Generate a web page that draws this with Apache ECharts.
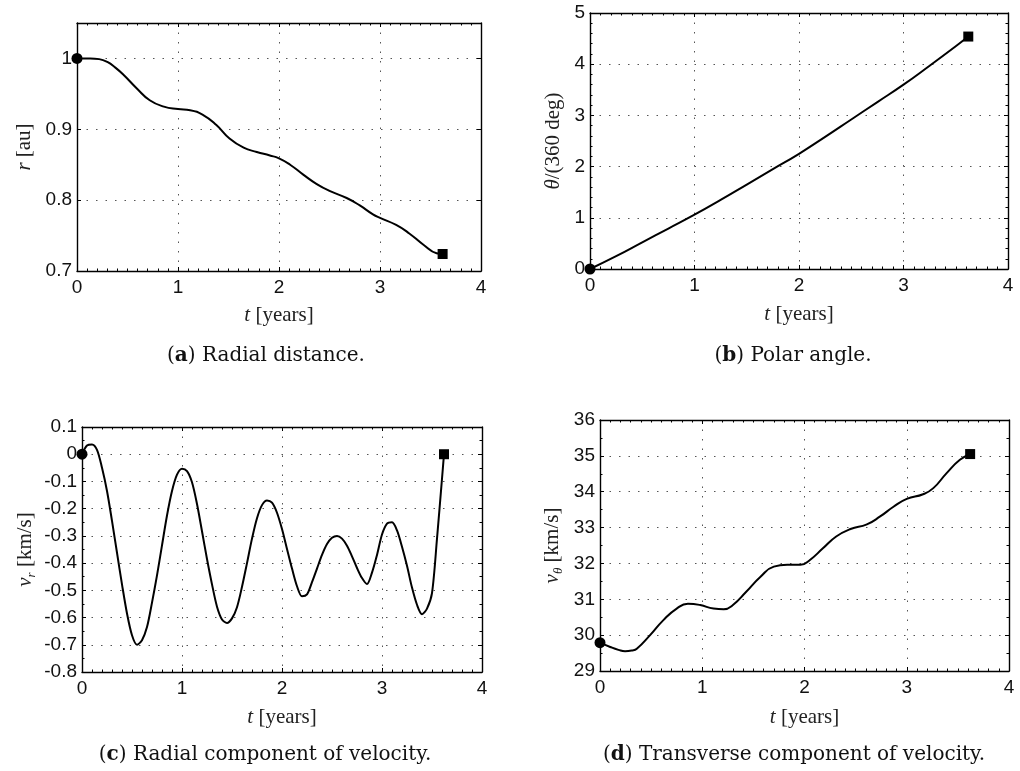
<!DOCTYPE html>
<html><head><meta charset="utf-8">
<script src="https://cdn.jsdelivr.net/npm/echarts@6/dist/echarts.min.js"></script>
<style>html,body{margin:0;padding:0;background:#fff}#c{width:1020px;height:771px}</style>
</head><body><div id="c"></div>
<script>
// (a) radial distance r [au]
const tA = [0, 0.13, 0.22, 0.3, 0.38, 0.46, 0.59, 0.72, 0.86, 1.0, 1.12, 1.25, 1.38, 1.51, 1.65, 1.78, 1.91, 2.0, 2.11, 2.24, 2.37, 2.5, 2.67, 2.8, 2.93, 3.0, 3.16, 3.29, 3.43, 3.56, 3.62];
const rA = [1.0, 1.0, 0.999, 0.995, 0.987, 0.977, 0.958, 0.941, 0.932, 0.9286, 0.927, 0.920, 0.906, 0.887, 0.874, 0.868, 0.863, 0.859, 0.850, 0.836, 0.823, 0.813, 0.803, 0.7925, 0.780, 0.775, 0.765, 0.753, 0.737, 0.725, 0.724];
// (b) polar angle theta/(360 deg)
const tB = [0, 0.25, 0.5, 0.75, 1.0, 1.25, 1.5, 1.75, 2.0, 2.25, 2.5, 2.75, 3.0, 3.25, 3.5, 3.62];
const thB = [0, 0.25, 0.52, 0.79, 1.06, 1.35, 1.65, 1.95, 2.25, 2.58, 2.92, 3.26, 3.60, 3.97, 4.35, 4.54];
// (c) radial velocity v_r [km/s]
const tC = [0, 0.05, 0.1, 0.15, 0.2, 0.25, 0.3, 0.35, 0.4, 0.45, 0.5, 0.55, 0.6, 0.65, 0.7, 0.75, 0.8, 0.85, 0.9, 0.95, 1.0, 1.05, 1.1, 1.15, 1.2, 1.25, 1.3, 1.35, 1.4, 1.45, 1.5, 1.55, 1.6, 1.65, 1.7, 1.75, 1.8, 1.85, 1.9, 1.95, 2.0, 2.05, 2.1, 2.15, 2.2, 2.25, 2.3, 2.35, 2.4, 2.45, 2.5, 2.55, 2.6, 2.65, 2.7, 2.75, 2.8, 2.85, 2.9, 2.95, 3.0, 3.05, 3.1, 3.15, 3.2, 3.25, 3.3, 3.35, 3.4, 3.45, 3.5, 3.55, 3.6, 3.62];
const vrC = [0, 0.032, 0.036, 0.016, -0.05, -0.135, -0.245, -0.362, -0.478, -0.585, -0.665, -0.70, -0.683, -0.635, -0.545, -0.445, -0.335, -0.225, -0.135, -0.075, -0.053, -0.062, -0.103, -0.183, -0.283, -0.385, -0.478, -0.56, -0.607, -0.62, -0.603, -0.562, -0.487, -0.40, -0.31, -0.235, -0.187, -0.17, -0.178, -0.215, -0.275, -0.348, -0.42, -0.485, -0.522, -0.515, -0.47, -0.42, -0.37, -0.33, -0.307, -0.30, -0.31, -0.336, -0.375, -0.418, -0.455, -0.477, -0.435, -0.37, -0.295, -0.255, -0.25, -0.28, -0.34, -0.41, -0.49, -0.553, -0.588, -0.567, -0.51, -0.31, -0.09, 0];
// (d) transverse velocity v_theta [km/s]
const tD = [0, 0.1, 0.18, 0.245, 0.31, 0.36, 0.49, 0.62, 0.75, 0.86, 0.98, 1.11, 1.21, 1.30, 1.43, 1.57, 1.70, 1.83, 1.96, 2.05, 2.18, 2.31, 2.45, 2.61, 2.74, 2.87, 3.0, 3.16, 3.26, 3.39, 3.52, 3.62];
const vtD = [29.79, 29.67, 29.59, 29.55, 29.57, 29.62, 30.0, 30.42, 30.74, 30.875, 30.84, 30.74, 30.72, 30.84, 31.21, 31.63, 31.91, 31.96, 31.96, 32.09, 32.42, 32.75, 32.96, 33.09, 33.31, 33.58, 33.80, 33.93, 34.10, 34.52, 34.89, 35.05];

const captionLetters = ['a', 'b', 'c', 'd'];
const captionTexts = ['Radial distance.', 'Polar angle.', 'Radial component of velocity.', 'Transverse component of velocity.'];
const xName = '{i|t} [years]';
const yNames = ['{i|r} [au]', '{i|θ}/(360 deg)', '{i|v}{s|r} [km/s]', '{i|v}{s|θ} [km/s]'];
const yMin = [0.7, 0, -0.8, 29];
const yMax = [1.05, 5, 0.1, 36];
const yInterval = [0.1, 1, 0.1, 1];
const yMinorSplit = [0, 5, 2, 2];

const panels = [
  {t: tA, v: rA, smooth: 0.5, grid: {left: 77, top: 23, width: 404, height: 248}, yGap: 40, xGap: 31, cap: [266, 356]},
  {t: tB, v: thB, smooth: 0.5, grid: {left: 590, top: 13, width: 418, height: 256}, yGap: 24, xGap: 32, cap: [793, 356]},
  {t: tC, v: vrC, smooth: 0.3, grid: {left: 82, top: 427, width: 400, height: 245}, yGap: 44, xGap: 32, cap: [265, 755]},
  {t: tD, v: vtD, smooth: 0.5, grid: {left: 600, top: 420, width: 409, height: 251}, yGap: 35, xGap: 33, cap: [794, 755]}
];

const SANS = 'Liberation Sans';
const SERIF = 'Liberation Serif';
const nameStyle = {
  fontFamily: SERIF, fontSize: 21, color: '#222', lineHeight: 26,
  rich: {
    i: {fontFamily: SERIF, fontStyle: 'italic', fontSize: 21, color: '#222', lineHeight: 26},
    s: {fontFamily: SERIF, fontStyle: 'italic', fontSize: 13, color: '#222', verticalAlign: 'bottom'}
  }
};
const lineBlack = {color: '#000', width: 1.4};
const gridDots = {show: true, lineStyle: {color: '#555', width: 1, type: [1.5, 8]}};

const grid = [], xAxis = [], yAxis = [], series = [], graphic = [];
panels.forEach((p, i) => {
  grid.push(Object.assign({containLabel: false}, p.grid));
  const baseX = {
    type: 'value', gridIndex: i, min: 0, max: 4, interval: 1,
    axisLine: {show: true, onZero: false, lineStyle: lineBlack},
    axisTick: {show: true, inside: true, length: 4, lineStyle: {color: '#000'}},
    minorTick: {show: true, splitNumber: 10, length: 2.5, lineStyle: {color: '#000'}}
  };
  xAxis.push(Object.assign({}, baseX, {
    position: 'bottom',
    splitLine: gridDots,
    axisLabel: {fontFamily: SANS, fontSize: 19, color: '#111', margin: 7},
    name: xName, nameLocation: 'middle', nameGap: p.xGap, nameTextStyle: nameStyle
  }));
  xAxis.push(Object.assign({}, baseX, {
    position: 'top', splitLine: {show: false}, axisLabel: {show: false}
  }));
  const baseY = {
    type: 'value', gridIndex: i, min: yMin[i], max: yMax[i], interval: yInterval[i],
    axisLine: {show: true, onZero: false, lineStyle: lineBlack},
    axisTick: {show: true, inside: true, length: 4, lineStyle: {color: '#000'}},
    minorTick: {show: yMinorSplit[i] > 0, splitNumber: yMinorSplit[i] || 5, length: 2.5, lineStyle: {color: '#000'}}
  };
  yAxis.push(Object.assign({}, baseY, {
    position: 'left',
    splitLine: gridDots,
    axisLabel: {fontFamily: SANS, fontSize: 19, color: '#111', margin: 5, showMaxLabel: i !== 0},
    name: yNames[i], nameLocation: 'middle', nameRotate: 90, nameGap: p.yGap, nameTextStyle: nameStyle
  }));
  yAxis.push(Object.assign({}, baseY, {
    position: 'right', splitLine: {show: false}, axisLabel: {show: false}
  }));
  const data = p.t.map((t, k) => [t, p.v[k]]);
  series.push({
    type: 'line', xAxisIndex: 2 * i, yAxisIndex: 2 * i, data: data,
    smooth: p.smooth, showSymbol: false, clip: false,
    lineStyle: {color: '#000', width: 2}, z: 3
  });
  series.push({
    type: 'scatter', xAxisIndex: 2 * i, yAxisIndex: 2 * i, clip: false, z: 4,
    data: [{value: data[0], symbol: 'circle', symbolSize: 11},
           {value: data[data.length - 1], symbol: 'rect', symbolSize: 10}],
    itemStyle: {color: '#000', opacity: 1}
  });
  graphic.push({
    type: 'text', x: p.cap[0], y: p.cap[1],
    style: {
      text: '({b|' + captionLetters[i] + '}) ' + captionTexts[i],
      font: '20px "DejaVu Serif"', fill: '#111', align: 'center', verticalAlign: 'middle',
      rich: {b: {fontWeight: 'bold', fontFamily: 'DejaVu Serif', fontSize: 20, fill: '#111'}}
    }
  });
});

const chart = echarts.init(document.getElementById('c'), null, {renderer: 'canvas'});
chart.setOption({
  animation: false, backgroundColor: '#fff',
  grid: grid, xAxis: xAxis, yAxis: yAxis, series: series, graphic: graphic
});
</script>
</body></html>
